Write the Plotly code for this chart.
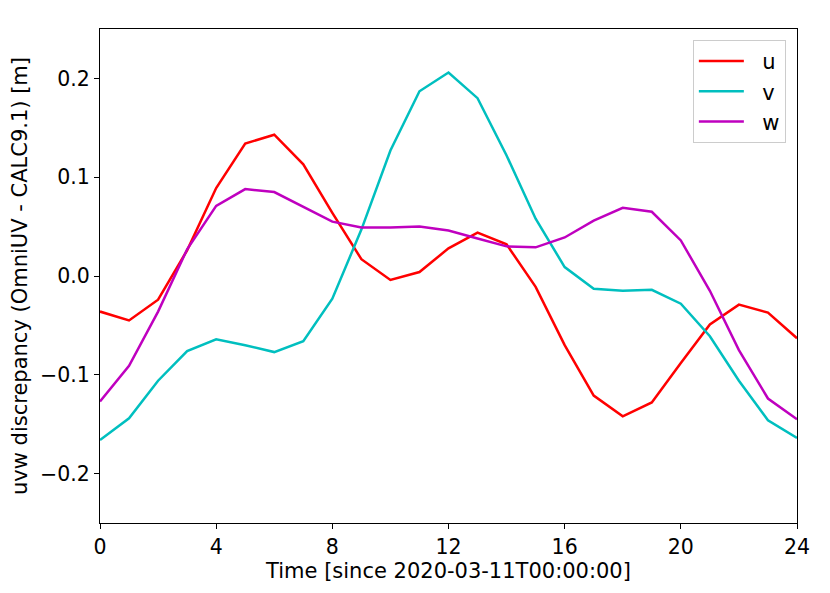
import plotly.graph_objects as go

# hourly samples, 0..24
hours = list(range(25))

u_vals = [-0.036, -0.045, -0.024, 0.026, 0.089, 0.134, 0.143, 0.113, 0.064, 0.017,
          -0.004, 0.004, 0.028, 0.044, 0.032, -0.011, -0.070, -0.121, -0.142, -0.128,
          -0.088, -0.049, -0.029, -0.037, -0.063]
v_vals = [-0.166, -0.144, -0.106, -0.076, -0.064, -0.070, -0.077, -0.066, -0.023, 0.047,
          0.127, 0.187, 0.206, 0.180, 0.122, 0.058, 0.009, -0.013, -0.015, -0.014,
          -0.028, -0.061, -0.106, -0.146, -0.164]
w_vals = [-0.127, -0.091, -0.036, 0.027, 0.071, 0.088, 0.085, 0.070, 0.055, 0.049,
          0.049, 0.050, 0.046, 0.038, 0.030, 0.029, 0.039, 0.056, 0.069, 0.065,
          0.036, -0.015, -0.075, -0.124, -0.145]

x_ticks = [0, 4, 8, 12, 16, 20, 24]
y_ticks = [-0.2, -0.1, 0.0, 0.1, 0.2]

font_family = "DejaVu Sans"
pad = "\u00a0\u00a0"  # small gap between legend line and label

fig = go.Figure()
fig.add_trace(go.Scatter(x=hours, y=u_vals, mode="lines", name=pad + "u",
                         line=dict(color="#ff0000", width=2.5)))
fig.add_trace(go.Scatter(x=hours, y=v_vals, mode="lines", name=pad + "v",
                         line=dict(color="#00bfbf", width=2.5)))
fig.add_trace(go.Scatter(x=hours, y=w_vals, mode="lines", name=pad + "w",
                         line=dict(color="#bf00bf", width=2.5)))

axis_common = dict(
    showgrid=False, zeroline=False,
    showline=True, linecolor="black", linewidth=1.2, mirror=True,
    ticks="outside", ticklen=5, tickwidth=1.2, tickcolor="black",
    tickfont=dict(family=font_family, size=20.5, color="black"),
)

# the page body adds an 8px margin, so the figure is sized/offset to match
fig.update_layout(
    width=814, height=581,
    margin=dict(l=92, r=25, t=21, b=66),
    paper_bgcolor="white", plot_bgcolor="white",
    font=dict(family=font_family, size=20, color="black"),
    xaxis=dict(range=[0, 24], tickvals=x_ticks,
               title=dict(text="Time [since 2020-03-11T00:00:00]", standoff=4,
                          font=dict(family=font_family, size=21)),
               **axis_common),
    yaxis=dict(range=[-0.25, 0.25], tickvals=y_ticks, tickformat=".1f",
               automargin=False,
               title=dict(text="uvw discrepancy (OmniUV - CALC9.1) [m]", standoff=6,
                          font=dict(family=font_family, size=21)),
               **axis_common),
    legend=dict(x=0.984, y=0.978, xanchor="right", yanchor="top",
                bgcolor="rgba(255,255,255,0.8)", bordercolor="#cccccc", borderwidth=1,
                itemwidth=45,
                font=dict(family=font_family, size=21)),
    showlegend=True,
)

fig.write_html("out.html")
